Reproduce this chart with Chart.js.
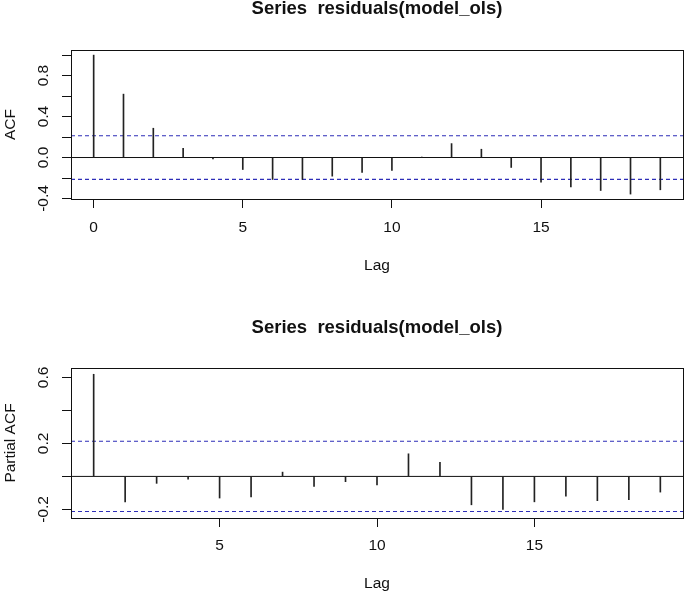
<!DOCTYPE html>
<html>
<head>
<meta charset="utf-8">
<title>ACF / PACF of residuals(model_ols)</title>
<script src="https://cdn.jsdelivr.net/npm/chart.js@4.4.1/dist/chart.umd.min.js"></script>
<style>
  html, body { margin: 0; padding: 0; background: #fff; }
  #wrap { position: relative; width: 685px; height: 593px; }
  canvas { position: absolute; left: 0; }
  #acfChart { top: 0; }
  #pacfChart { top: 296px; }
</style>
</head>
<body>
<div id="wrap">
  <canvas id="acfChart" width="685" height="296"></canvas>
  <canvas id="pacfChart" width="685" height="297"></canvas>
</div>
<script>
const titleText = 'Series  residuals(model_ols)';

const acfLags = [0, 1, 2, 3, 4, 5, 6, 7, 8, 9, 10, 11, 12, 13, 14, 15, 16, 17, 18, 19];
const acfValues = [1.0, 0.619, 0.286, 0.091, -0.013, -0.117, -0.214, -0.214, -0.182, -0.146,
                   -0.127, 0.004, 0.136, 0.081, -0.097, -0.240, -0.286, -0.322, -0.357, -0.315];

const pacfLags = [1, 2, 3, 4, 5, 6, 7, 8, 9, 10, 11, 12, 13, 14, 15, 16, 17, 18, 19];
const pacfValues = [0.619, -0.154, -0.042, -0.016, -0.131, -0.125, 0.026, -0.061, -0.032, -0.051,
                    0.137, 0.085, -0.172, -0.200, -0.154, -0.119, -0.147, -0.141, -0.095];

const ciBound = 0.213; // 1.96 / sqrt(n)

const acfXTicks = [0, 5, 10, 15];
const acfYTicks = [-0.4, -0.2, 0, 0.2, 0.4, 0.6, 0.8, 1.0];
const acfYLabels = [-0.4, 0.0, 0.4, 0.8];

const pacfXTicks = [5, 10, 15];
const pacfYTicks = [-0.2, 0, 0.2, 0.4, 0.6];
const pacfYLabels = [-0.2, 0.2, 0.6];

const FONT = '"Liberation Sans", Arial, Helvetica, sans-serif';
const INK = '#111';

// box around the plot region + rotated y tick labels (R style)
const rFrame = {
  id: 'rFrame',
  afterDraw(chart, args, opts) {
    const { ctx, chartArea: a } = chart;
    const y = chart.scales.y;
    ctx.save();
    ctx.strokeStyle = INK;
    ctx.lineWidth = 1;
    const L = Math.round(a.left) + 0.5, R = Math.round(a.right) + 0.5;
    const T = Math.round(a.top) + 0.5, B = Math.round(a.bottom) + 0.5;
    ctx.strokeRect(L, T, R - L, B - T);

    ctx.fillStyle = INK;
    ctx.font = '15.5px ' + FONT;
    ctx.textAlign = 'center';
    ctx.textBaseline = 'middle';
    opts.labels.forEach(v => {
      ctx.save();
      ctx.translate(opts.labelX, y.getPixelForValue(v));
      ctx.rotate(-Math.PI / 2);
      ctx.fillText(v.toFixed(1), 0, 0);
      ctx.restore();
    });
    ctx.restore();
  }
};

function makeChart(id, p) {
  const ctx = document.getElementById(id).getContext('2d');
  const axisFont = { family: FONT, size: 15.5 };
  return new Chart(ctx, {
    type: 'bar',
    data: {
      datasets: [
        {
          type: 'bar',
          data: p.lags.map((l, i) => ({ x: l, y: p.values[i] })),
          backgroundColor: '#222',
          barThickness: 1,
          borderWidth: 0,
          order: 1
        },
        {
          type: 'line',
          data: [{ x: p.xMin, y: 0 }, { x: p.xMax, y: 0 }],
          borderColor: INK, borderWidth: 1, pointRadius: 0, order: 2
        },
        {
          type: 'line',
          data: [{ x: p.xMin, y: ciBound }, { x: p.xMax, y: ciBound }],
          borderColor: '#2e2eb8', borderWidth: 1.1, borderDash: [4, 3], pointRadius: 0, order: 3
        },
        {
          type: 'line',
          data: [{ x: p.xMin, y: -ciBound }, { x: p.xMax, y: -ciBound }],
          borderColor: '#2e2eb8', borderWidth: 1.1, borderDash: [4, 3], pointRadius: 0, order: 3
        }
      ]
    },
    options: {
      responsive: false,
      animation: false,
      events: [],
      layout: { padding: { top: 0, left: 0, right: 2, bottom: 0 } },
      plugins: {
        legend: { display: false },
        tooltip: { enabled: false },
        title: {
          display: true,
          fullSize: false,
          text: titleText,
          color: INK,
          font: { family: FONT, size: 18.5, weight: 'bold', lineHeight: 0.8 },
          padding: { top: p.titleTop, bottom: p.titleBottom }
        },
        rFrame: { labels: p.yLabels, labelX: 44 }
      },
      scales: {
        x: {
          type: 'linear',
          min: p.xMin,
          max: p.xMax,
          offset: false,
          grid: { display: true, drawOnChartArea: false, drawTicks: true, tickLength: 9, color: INK, offset: false },
          border: { display: false },
          ticks: { font: axisFont, color: INK, padding: p.xTickPad, maxRotation: 0, autoSkip: false },
          afterBuildTicks: s => { s.ticks = p.xTicks.map(v => ({ value: v })); },
          afterFit: s => { s.height = p.xAxisHeight; },
          title: { display: true, text: 'Lag', color: INK, font: axisFont, padding: { top: 0, bottom: p.lagPad } }
        },
        y: {
          type: 'linear',
          min: p.yMin,
          max: p.yMax,
          grid: { display: true, drawOnChartArea: false, drawTicks: true, tickLength: 9, color: INK },
          border: { display: false },
          ticks: { display: false },
          afterBuildTicks: s => { s.ticks = p.yTicks.map(v => ({ value: v })); },
          afterFit: s => { s.width = 71; },
          title: { display: true, text: p.yTitle, color: INK, font: axisFont, padding: { top: 1, bottom: 0 } }
        }
      }
    },
    plugins: [rFrame]
  });
}

makeChart('acfChart', {
  lags: acfLags, values: acfValues,
  xMin: -0.76, xMax: 19.76, yMin: -0.405, yMax: 1.05,
  xTicks: acfXTicks, yTicks: acfYTicks, yLabels: acfYLabels,
  yTitle: 'ACF',
  titleTop: 2, titleBottom: 33.2,
  xAxisHeight: 97, xTickPad: 10, lagPad: 20.6
});

makeChart('pacfChart', {
  lags: pacfLags, values: pacfValues,
  xMin: 0.28, xMax: 19.72, yMin: -0.252, yMax: 0.657,
  xTicks: pacfXTicks, yTicks: pacfYTicks, yLabels: pacfYLabels,
  yTitle: 'Partial ACF',
  titleTop: 24.4, titleBottom: 32.8,
  xAxisHeight: 75, xTickPad: 9, lagPad: 0
});
</script>
</body>
</html>
